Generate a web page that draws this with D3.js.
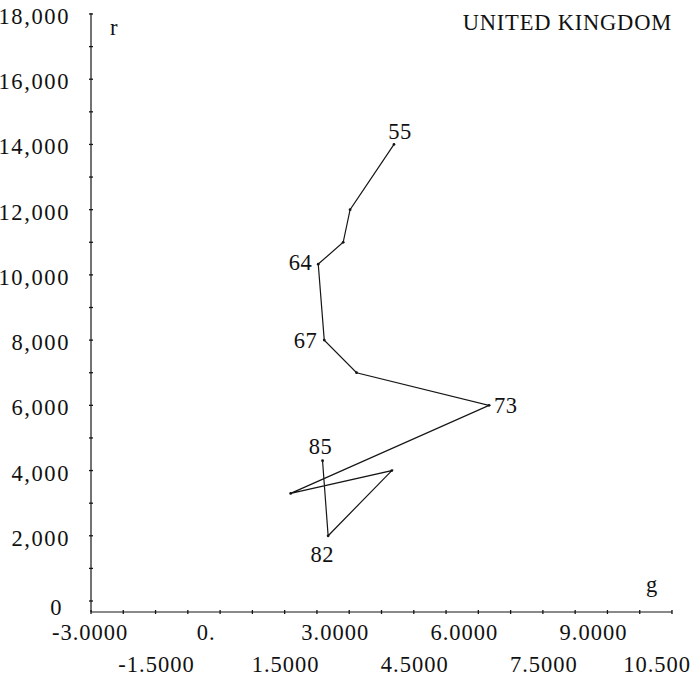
<!DOCTYPE html>
<html>
<head>
<meta charset="utf-8">
<script src="https://cdn.jsdelivr.net/npm/d3@7"></script>
<style>
  html, body { margin: 0; padding: 0; background: #fff; }
  svg { display: block; }
  text { font-family: 'Liberation Serif', 'Times New Roman', serif; fill: #111; }
</style>
</head>
<body>
<div id="chart"></div>
<script>
// years labelled on the path (every third year)
const years = [55, 58, 61, 64, 67, 70, 73, 76, 79, 82, 85];
// g (horizontal) and r (vertical) values
const gValues = [4.04, 3.02, 2.86, 2.28, 2.42, 3.17, 6.25, 1.64, 3.99, 2.51, 2.38];
const rValues = [14000, 12000, 11000, 10330, 8000, 7000, 6000, 3300, 4000, 2000, 4300];
const labelledYears = [55, 64, 67, 73, 82, 85];

const yTickValues = [0, 2000, 4000, 6000, 8000, 10000, 12000, 14000, 16000, 18000];
const xTickRow1 = [-3, 0, 3, 6, 9];
const xTickRow2 = [-1.5, 1.5, 4.5, 7.5, 10.5];
const xTickLabels1 = ['-3.0000', '0.', '3.0000', '6.0000', '9.0000'];
const xTickLabels2 = ['-1.5000', '1.5000', '4.5000', '7.5000', '10.500'];

const W = 697, H = 683;
const d3 = window.d3;
const data = years.map((yr, i) => ({ year: yr, g: gValues[i], r: rValues[i] }));

const svg = d3.select('#chart').append('svg')
  .attr('width', W).attr('height', H);

const x = d3.scaleLinear().domain([-3, 10.5]).range([91, 672]);
const y = d3.scaleLinear().domain([0, 18000]).range([601, 14]);
const axisY = 612;   // the g axis sits a little below r = 0

const ink = '#151515';
const fs = '22.5px';

// r axis
svg.append('line')
  .attr('x1', x(-3)).attr('x2', x(-3))
  .attr('y1', y(18000) - 1).attr('y2', axisY)
  .attr('stroke', ink).attr('stroke-width', 1.2);

svg.append('g').selectAll('line')
  .data(d3.range(0, 18001, 1000))
  .join('line')
  .attr('x1', x(-3) - 2).attr('x2', x(-3) + 2)
  .attr('y1', d => y(d)).attr('y2', d => y(d))
  .attr('stroke', ink).attr('stroke-width', 1.3);

svg.append('g').selectAll('text')
  .data(yTickValues)
  .join('text')
  .attr('x', d => d === 0 ? 63 : 70)
  .attr('y', d => y(d) + (d === 0 ? 14 : 10))
  .attr('text-anchor', 'end')
  .attr('font-size', fs)
  .attr('letter-spacing', '1.6px')
  .text(d => d3.format(',')(d));

// g axis
svg.append('line')
  .attr('x1', x(-3)).attr('x2', x(10.5))
  .attr('y1', axisY).attr('y2', axisY)
  .attr('stroke', ink).attr('stroke-width', 1.2);

svg.append('g').selectAll('line')
  .data(d3.range(0, 19).map(i => -3 + i * 0.75))
  .join('line')
  .attr('x1', d => x(d)).attr('x2', d => x(d))
  .attr('y1', axisY - 2).attr('y2', axisY + 2)
  .attr('stroke', ink).attr('stroke-width', 1.3);

function tickRow(values, labels, baseline, shift) {
  const t = svg.append('g').selectAll('text')
    .data(values)
    .join('text')
    .attr('x', d => x(d) + shift)
    .attr('y', baseline)
    .attr('text-anchor', 'middle')
    .attr('font-size', fs)
    .attr('letter-spacing', '1px')
    .text((d, i) => labels[i]);
  // keep end labels inside the frame like the original
  t.each(function () {
    const b = this.getBBox();
    if (b.x < 52) d3.select(this).attr('x', +d3.select(this).attr('x') + (52 - b.x));
    if (b.x + b.width > 691) d3.select(this).attr('x', +d3.select(this).attr('x') - (b.x + b.width - 691));
  });
}
tickRow(xTickRow1, xTickLabels1, 640, -14);
tickRow(xTickRow2, xTickLabels2, 672, 1);

// axis names and title
svg.append('text').attr('x', 110).attr('y', 35).attr('font-size', fs).text('r');
svg.append('text').attr('x', 646).attr('y', 592).attr('font-size', fs).text('g');
svg.append('text').attr('x', 672).attr('y', 30)
  .attr('text-anchor', 'end').attr('font-size', fs)
  .attr('letter-spacing', '0.8px').text('UNITED KINGDOM');

// path
const line = d3.line().x(d => x(d.g)).y(d => y(d.r));
svg.append('path')
  .datum(data)
  .attr('d', line)
  .attr('fill', 'none')
  .attr('stroke', ink)
  .attr('stroke-width', 1.2)
  .attr('stroke-linejoin', 'miter');

svg.append('g').selectAll('circle')
  .data(data)
  .join('circle')
  .attr('cx', d => x(d.g)).attr('cy', d => y(d.r))
  .attr('r', 1.4).attr('fill', ink);

// year labels
const labelPos = {
  55: { dx: 6, dy: -5, anchor: 'middle' },
  64: { dx: -6, dy: 6, anchor: 'end' },
  67: { dx: -7, dy: 8, anchor: 'end' },
  73: { dx: 5, dy: 8, anchor: 'start' },
  82: { dx: -6, dy: 26, anchor: 'middle' },
  85: { dx: -2, dy: -7, anchor: 'middle' }
};
svg.append('g').selectAll('text')
  .data(data.filter(d => labelledYears.includes(d.year)))
  .join('text')
  .attr('x', d => x(d.g) + labelPos[d.year].dx)
  .attr('y', d => y(d.r) + labelPos[d.year].dy)
  .attr('text-anchor', d => labelPos[d.year].anchor)
  .attr('font-size', fs)
  .attr('letter-spacing', '0.5px')
  .text(d => d.year);
</script>
</body>
</html>
